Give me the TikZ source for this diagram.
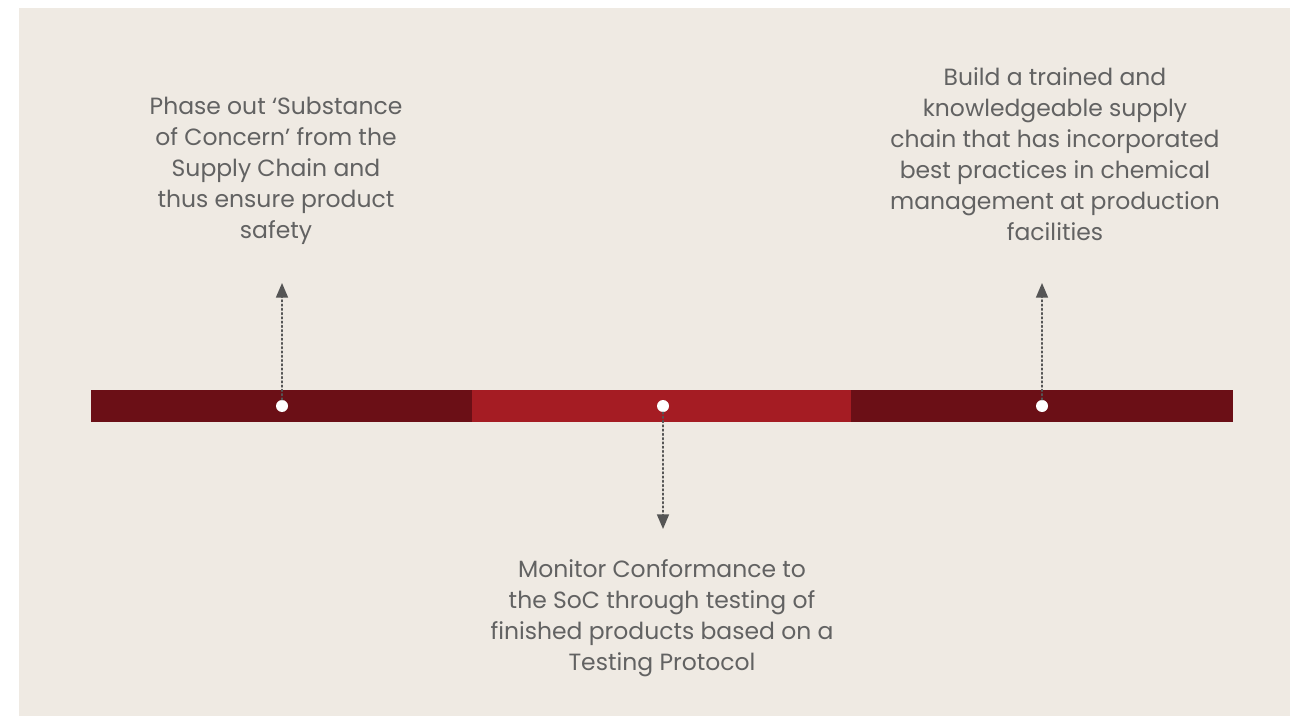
\documentclass[tikz,border=0pt]{standalone}
\usepackage{fontspec}
\setmainfont{Poppins}
\usetikzlibrary{arrows.meta}
\definecolor{bg}{HTML}{EFEAE3}
\definecolor{darkred}{HTML}{6B0F16}
\definecolor{brightred}{HTML}{A51C23}
\definecolor{txt}{HTML}{626262}
\definecolor{arr}{HTML}{555555}
\tikzset{
  dot/.style={circle, fill=white, draw=none, inner sep=0pt, minimum size=9pt},
  lbl/.style={text=txt, align=center, inner sep=0pt, font=\fontsize{17.6}{23.2}\selectfont},
  conn/.style={arr, dotted, line width=1.2pt, line cap=round, -{Triangle[width=9pt,length=11pt]}}
}
\begin{document}
\begin{tikzpicture}[x=0.75pt,y=-0.75pt]
\useasboundingbox (0,0) rectangle (1291,716);
\fill[white] (0,0) rectangle (1291,716);
\fill[bg] (19,8) rectangle (1290,716);
% bar segments
\fill[darkred] (91,390) rectangle (472,422);
\fill[brightred] (472,390) rectangle (851,422);
\fill[darkred] (851,390) rectangle (1233,422);
% dots
\node[dot] (d1) at (282,406) {};
\node[dot] (d2) at (663,406) {};
\node[dot] (d3) at (1042,406) {};
% arrow tips
\coordinate (t1) at (282,283);
\coordinate (t2) at (663,529);
\coordinate (t3) at (1042,283);
\draw[conn] (d1.north) -- (t1);
\draw[conn] (d2.south) -- (t2);
\draw[conn] (d3.north) -- (t3);
% labels
\node[lbl] (l1) at (276,171) {Phase out ‘Substance\\of Concern’ from the\\Supply Chain and\\thus ensure product\\safety};
\node[lbl] (l2) at (662,618) {Monitor Conformance to\\the SoC through testing of\\finished products based on a\\Testing Protocol};
\node[lbl] (l3) at (1055,154) {Build a trained and\\knowledgeable supply\\chain that has incorporated\\best practices in chemical\\management at production\\facilities};
\end{tikzpicture}
\end{document}
